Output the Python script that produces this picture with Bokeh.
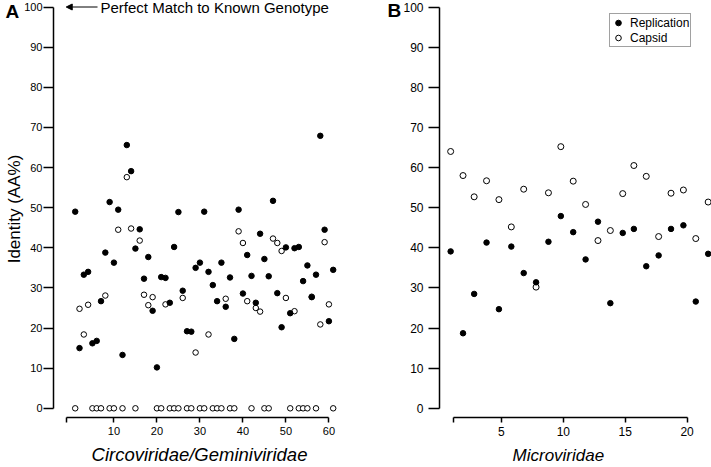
from bokeh.plotting import figure
from bokeh.models import (Range1d, FixedTicker, Label, Arrow, NormalHead,
                          Legend, LegendItem, ColumnDataSource)
from bokeh.layouts import row
from bokeh.embed import file_html
from bokeh.resources import INLINE

# ---------------- data ----------------
genome_a = list(range(1, 62))
replication_a = [49.0, 15.0, 33.3, 34.0, 16.2, 16.8, 26.7, 38.8, 51.4, 36.3,
                 49.5, 13.3, 65.6, 59.1, 39.8, 44.6, 32.3, 37.7, 24.3, 10.2,
                 32.7, 32.5, 26.3, 40.2, 48.9, 29.3, 19.2, 19.1, 35.0, 36.3,
                 49.0, 34.0, 30.7, 26.7, 36.3, 25.3, 32.6, 17.3, 49.5, 28.6,
                 38.2, 33.0, 26.3, 43.5, 37.2, 32.9, 51.7, 28.7, 20.2, 40.1,
                 23.7, 39.9, 40.2, 31.7, 35.6, 27.7, 33.3, 67.9, 44.5, 21.7,
                 34.5]
capsid_a = [0, 24.8, 18.4, 25.8, 0, 0, 0, 28.1, 0, 0,
            44.5, 0, 57.6, 44.8, 0, 41.8, 28.3, 25.7, 27.7, 0,
            0, 25.9, 0, 0, 0, 27.5, 0, 0, 13.9, 0,
            0, 18.4, 0, 0, 0, 27.3, 0, 0, 44.1, 41.2,
            26.7, 0, 25.0, 24.1, 0, 0, 42.3, 41.2, 39.2, 27.5,
            0, 24.2, 0, 0, 0, 27.8, 0, 20.9, 41.4, 25.9,
            0]

genome_b = [0.9, 1.9, 2.8, 3.8, 4.8, 5.8, 6.8, 7.8, 8.8, 9.8, 10.8,
            11.8, 12.8, 13.8, 14.8, 15.7, 16.7, 17.7, 18.7, 19.7, 20.7, 21.7]
replication_b = [39.1, 18.7, 28.5, 41.3, 24.7, 40.3, 33.7, 31.4, 41.5, 47.9, 43.9,
                 37.1, 46.5, 26.2, 43.7, 44.7, 35.4, 38.1, 44.7, 45.6, 26.6, 38.5]
capsid_b = [64.0, 58.0, 52.7, 56.7, 52.0, 45.2, 54.6, 30.2, 53.7, 65.2, 56.6,
            50.8, 41.8, 44.3, 53.5, 60.5, 57.8, 42.8, 53.6, 54.4, 42.3, 51.4]

y_ticks = list(range(0, 101, 10))
x_ticks_a = [10, 20, 30, 40, 50, 60]
x_ticks_b = [5, 10, 15, 20]

FONT = "Liberation Sans"
Y0, Y1 = -2.29, 101.62


def style_axis(ax, size, tick_out, standoff):
    ax.axis_line_color = "black"
    ax.axis_line_width = 1.5
    ax.major_tick_line_color = "black"
    ax.major_tick_line_width = 1.5
    ax.major_tick_out = tick_out
    ax.major_tick_in = 0
    ax.minor_tick_out = 0
    ax.minor_tick_in = 0
    ax.major_label_text_font = FONT
    ax.major_label_text_font_size = size
    ax.major_label_text_color = "black"
    ax.major_label_standoff = standoff
    ax.axis_label_text_font = FONT
    ax.axis_label_text_color = "black"


def base_fig(width, xr, left, right):
    p = figure(width=width, height=467, output_backend="svg", toolbar_location=None,
               x_range=Range1d(*xr), y_range=Range1d(Y0, Y1), title=None,
               min_border_left=left, min_border_right=right,
               min_border_top=0, min_border_bottom=49)
    p.grid.visible = False
    p.outline_line_color = None
    p.background_fill_color = "white"
    p.border_fill_color = "white"
    return p


def text_label(x, y, text, size, style="normal", align="left"):
    return Label(x=x, y=y, text=text, text_font=FONT, text_font_style=style,
                 text_font_size=size, text_align=align, text_baseline="middle",
                 text_color="black")


# ---------------- panel A ----------------
pa = base_fig(380, (-4.05, 63.86), 53, 35)
src_a = ColumnDataSource(dict(g=genome_a, rep=replication_a, cap=capsid_a))
pa.scatter("g", "cap", source=src_a, marker="circle", size=5.5,
           fill_color="white", line_color="black", line_width=1)
pa.scatter("g", "rep", source=src_a, marker="circle", size=5.5,
           fill_color="black", line_color="black")

style_axis(pa.yaxis[0], "11px", 10, 1)
pa.yaxis.ticker = FixedTicker(ticks=y_ticks)
pa.yaxis.bounds = (0, 100)
pa.yaxis.axis_label = "Identity (AA%)"
pa.yaxis.axis_label_text_font_size = "17px"
pa.yaxis.axis_label_text_font_style = "normal"
pa.yaxis.axis_label_standoff = -3

style_axis(pa.xaxis[0], "11px", 5, 4)
pa.xaxis.ticker = FixedTicker(ticks=[-1] + x_ticks_a)
pa.xaxis.major_label_overrides = {-1: ""}
pa.xaxis.bounds = (-1, 60)
pa.xaxis.axis_label = "Circoviridae/Geminiviridae"
pa.xaxis.axis_label_text_font_size = "18.5px"
pa.xaxis.axis_label_text_font_style = "italic"
pa.xaxis.axis_label_standoff = 6

# panel letter lives in the (empty) right margin panel so it is not clipped
pa.add_layout(text_label(-15.2, 98.9, "A", "19px", "bold"), "right")
pa.add_layout(text_label(6.88, 100, "Perfect Match to Known Genotype", "15px"))
pa.add_layout(Arrow(end=NormalHead(size=6, fill_color="black", line_color="black"),
                    x_start=6.19, y_start=100, x_end=-1.09, y_end=100,
                    line_color="black", line_width=1))

# ---------------- panel B ----------------
pb = base_fig(331, (0.0, 21.97), 59, 0)
src_b = ColumnDataSource(dict(g=genome_b, rep=replication_b, cap=capsid_b))
r_cap = pb.scatter("g", "cap", source=src_b, marker="circle", size=6,
                   fill_color="white", line_color="black", line_width=1)
r_rep = pb.scatter("g", "rep", source=src_b, marker="circle", size=5.5,
                   fill_color="black", line_color="black")

style_axis(pb.yaxis[0], "12px", 11, 5)
pb.yaxis.ticker = FixedTicker(ticks=y_ticks)
pb.yaxis.bounds = (0, 100)
style_axis(pb.xaxis[0], "12px", 5, 4)
pb.xaxis.ticker = FixedTicker(ticks=[1.1] + x_ticks_b)
pb.xaxis.major_label_overrides = {1.1: ""}
pb.xaxis.bounds = (1.1, 20)

pb.add_layout(text_label(-4.21, 99.1, "B", "19px", "bold"), "left")
pb.add_layout(text_label(9.6, -11.73, "Microviridae", "17px", "italic", "center"), "below")

legend = Legend(items=[LegendItem(label="Replication", renderers=[r_rep]),
                       LegendItem(label="Capsid", renderers=[r_cap])],
                location=(170, 370), padding=1, spacing=0, margin=0,
                label_height=15, glyph_height=15, glyph_width=14, label_standoff=5,
                label_text_font=FONT, label_text_font_size="12px",
                label_text_color="black",
                border_line_color="#444444", border_line_width=1,
                background_fill_color="white", background_fill_alpha=1)
pb.add_layout(legend)

layout = row(pa, pb)
open("out.html", "w").write(file_html(layout, INLINE))
